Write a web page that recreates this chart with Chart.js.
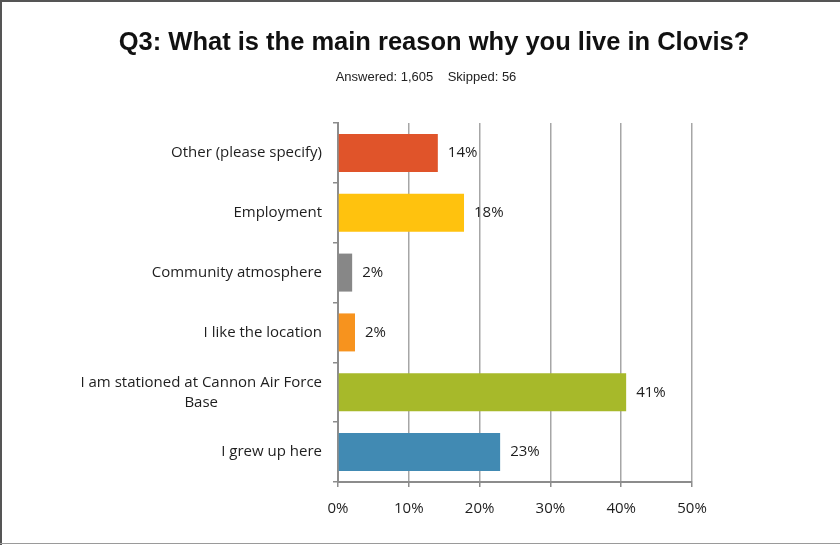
<!DOCTYPE html>
<html>
<head>
<meta charset="utf-8">
<script src="https://cdn.jsdelivr.net/npm/chart.js@4"></script>
<style>
  html, body { margin: 0; padding: 0; background: #fff; }
  #wrap { width: 840px; height: 545px; position: relative; }
</style>
</head>
<body>
<div id="wrap"><canvas id="reasonChart"></canvas></div>
<script>
// chart text
const titleText = "Q3: What is the main reason why you live in Clovis?";
const subtitleText = "Answered: 1,605    Skipped: 56";

// categories, top to bottom
const categories = [
  ["Other (please specify)"],
  ["Employment"],
  ["Community atmosphere"],
  ["I like the location"],
  ["I am stationed at Cannon Air Force", "Base"],
  ["I grew up here"],
];
const percentValues = [14.1, 17.8, 2.0, 2.4, 40.7, 22.9];
const barColors = ["#E0542A", "#FFC20E", "#878787", "#F7931E", "#A7B92A", "#418AB3"];
const xTickValues = [0, 10, 20, 30, 40, 50];

const labelFont = "15px 'Open Sans', sans-serif";
const textColor = "#1e1e1e";

// title, frame, category labels and value labels
const decorations = {
  id: "decorations",
  afterDraw(chart) {
    const ctx = chart.ctx;
    const yScale = chart.scales.y;
    ctx.save();

    // frame
    ctx.strokeStyle = "#555";
    ctx.lineWidth = 2;
    ctx.beginPath();
    ctx.moveTo(0, 1);
    ctx.lineTo(840, 1);
    ctx.moveTo(1, 0);
    ctx.lineTo(1, 545);
    ctx.stroke();
    ctx.strokeStyle = "#9a9a9a";
    ctx.lineWidth = 1;
    ctx.beginPath();
    ctx.moveTo(0, 543.5);
    ctx.lineTo(840, 543.5);
    ctx.stroke();

    // title + subtitle
    ctx.fillStyle = "#111";
    ctx.textAlign = "center";
    ctx.textBaseline = "middle";
    ctx.font = "bold 25.5px 'Liberation Sans', Arial, sans-serif";
    ctx.fillText(titleText, 434, 43);
    ctx.font = "13px 'Liberation Sans', Arial, sans-serif";
    ctx.fillStyle = "#222";
    ctx.fillText(subtitleText, 426, 77);

    // category labels (second line centred under the first)
    ctx.font = labelFont;
    ctx.fillStyle = textColor;
    const right = yScale.right - 16;
    categories.forEach((lines, i) => {
      const y = yScale.getPixelForTick(i);
      const firstWidth = ctx.measureText(lines[0]).width;
      lines.forEach((line, k) => {
        const ly = y + (k - (lines.length - 1) / 2) * 20;
        if (k === 0) {
          ctx.textAlign = "right";
          ctx.fillText(line, right, ly);
        } else {
          ctx.textAlign = "center";
          ctx.fillText(line, right - firstWidth / 2, ly);
        }
      });
    });

    // value labels
    ctx.textAlign = "left";
    const meta = chart.getDatasetMeta(0);
    meta.data.forEach((bar, i) => {
      ctx.fillText(Math.round(percentValues[i]) + "%", bar.x + 10, bar.y);
    });

    ctx.restore();
  },
};

const reasonChart = new Chart("reasonChart", {
  type: "bar",
  data: {
    labels: categories,
    datasets: [
      {
        data: percentValues,
        backgroundColor: barColors,
        borderWidth: 0,
        barPercentage: 0.635,
        categoryPercentage: 1,
      },
    ],
  },
  options: {
    indexAxis: "y",
    responsive: true,
    maintainAspectRatio: false,
    animation: false,
    layout: {
      padding: { top: 123, right: 148, bottom: 23, left: 0 },
    },
    plugins: {
      legend: { display: false },
      tooltip: { enabled: false },
    },
    scales: {
      x: {
        min: 0,
        max: 50,
        afterBuildTicks: (scale) => {
          scale.ticks = xTickValues.map((v) => ({ value: v }));
        },
        afterFit: (scale) => {
          scale.height = 40;
        },
        grid: {
          color: "#a6a6a6",
          lineWidth: 1.5,
          tickLength: 5,
          tickColor: "#8c8c8c",
        },
        border: { display: true, color: "#8c8c8c", width: 2 },
        ticks: {
          padding: 13,
          color: textColor,
          font: { family: "'Open Sans', sans-serif", size: 15 },
          callback: (v) => v + "%",
        },
      },
      y: {
        afterFit: (scale) => {
          scale.width = 338;
        },
        grid: {
          drawOnChartArea: false,
          tickLength: 5,
          tickColor: "#8c8c8c",
          lineWidth: 1.5,
        },
        border: { display: true, color: "#8c8c8c", width: 2 },
        ticks: { display: false },
      },
    },
  },
  plugins: [decorations],
});
</script>
</body>
</html>
